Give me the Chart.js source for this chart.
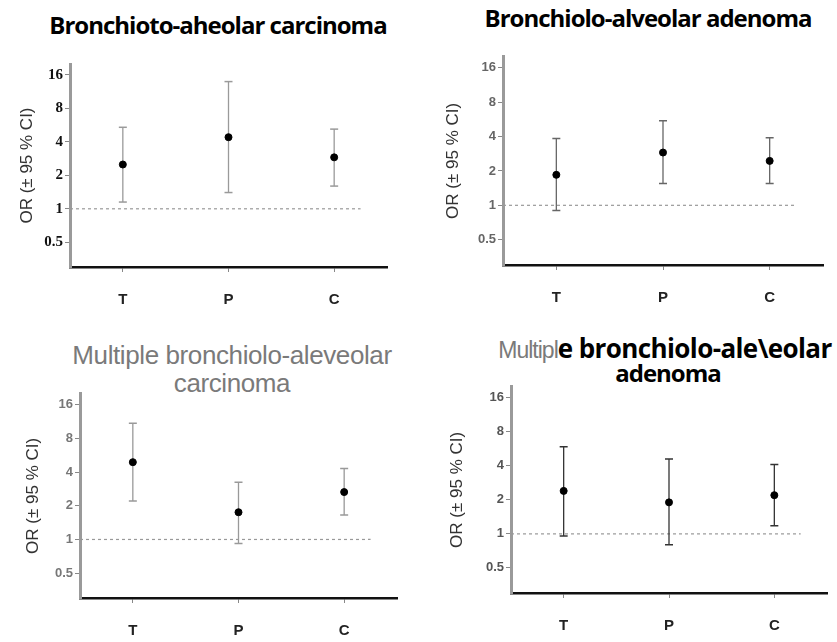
<!DOCTYPE html>
<html>
<head>
<meta charset="utf-8">
<script src="https://cdn.jsdelivr.net/npm/chart.js@4"></script>
<style>
  body { margin: 0; background: #fff; width: 837px; height: 642px; position: relative; overflow: hidden; }
  canvas { position: absolute; }
  .ttl { position: absolute; transform: translate(-50%, -50%); white-space: nowrap; line-height: 1; }
  .bold { font-family: "Open Sans", sans-serif; font-weight: 700; color: #000; letter-spacing: -1px; }
  .thin { font-family: "Liberation Sans", sans-serif; font-weight: 400; color: #7a7a7a; letter-spacing: -0.4px; }
</style>
</head>
<body>
<div class="ttl bold" style="left:218px;top:25px;font-size:24px">Bronchioto-aheolar carcinoma</div>
<div class="ttl bold" style="left:648px;top:18px;font-size:24px">Bronchiolo-alveolar adenoma</div>
<div class="ttl thin" style="left:232px;top:355px;font-size:26px">Multiple bronchiolo-aleveolar</div>
<div class="ttl thin" style="left:232px;top:383px;font-size:26px">carcinoma</div>
<div class="ttl" style="left:665px;top:348px"><span class="thin" style="font-size:23px;letter-spacing:-1px">Multipl</span><span class="bold" style="font-size:26px;letter-spacing:-0.6px">e bronchiolo-ale\eolar</span></div>
<div class="ttl bold" style="left:668px;top:373px;font-size:24px">adenoma</div>

<canvas id="c1"></canvas>
<canvas id="c2"></canvas>
<canvas id="c3"></canvas>
<canvas id="c4"></canvas>
<script>
const categories = ['T', 'P', 'C'];
const yTicks = [0.5, 1, 2, 4, 8, 16];
const yTitle = 'OR (± 95 % CI)';
const refValue = 1;
const refSpan = [0.5, 3.25];

// Bronchiolo-alveolar carcinoma
const carcOR = [2.5, 4.4, 2.9];
const carcLow = [1.15, 1.4, 1.6];
const carcHigh = [5.4, 13.9, 5.2];

// Bronchiolo-alveolar adenoma
const adenOR = [1.85, 2.9, 2.45];
const adenLow = [0.9, 1.55, 1.55];
const adenHigh = [3.85, 5.5, 3.9];

// Multiple bronchiolo-alveolar carcinoma
const multCarcOR = [4.9, 1.75, 2.65];
const multCarcLow = [2.2, 0.92, 1.65];
const multCarcHigh = [10.9, 3.25, 4.3];

// Multiple bronchiolo-alveolar adenoma
const multAdenOR = [2.4, 1.9, 2.2];
const multAdenLow = [0.96, 0.8, 1.18];
const multAdenHigh = [5.9, 4.6, 4.1];

// panel boxes: title centre x, axis left, top, right, bottom
const panels = [
    { id: 'c1', or: carcOR, lo: carcLow, hi: carcHigh, box: [27, 70, 61, 387, 267],
      barColor: '#9a9a9a', tickFont: { family: 'Liberation Serif', size: 15, weight: 'bold' }, tickColor: '#111' },
    { id: 'c2', or: adenOR, lo: adenLow, hi: adenHigh, box: [453, 503, 55, 823, 265],
      barColor: '#666', tickFont: { family: 'Liberation Sans', size: 13, weight: 'bold' }, tickColor: '#666' },
    { id: 'c3', or: multCarcOR, lo: multCarcLow, hi: multCarcHigh, box: [33, 80, 392, 397, 598],
      barColor: '#999', tickFont: { family: 'Liberation Sans', size: 13, weight: 'bold' }, tickColor: '#777' },
    { id: 'c4', or: multAdenOR, lo: multAdenLow, hi: multAdenHigh, box: [457, 511, 385, 827, 593],
      barColor: '#333', tickFont: { family: 'Liberation Sans', size: 13, weight: 'bold' }, tickColor: '#555' }
];

function drawPanel(p) {
    const [titleX, axisX, top, right, bottom] = p.box;
    const left = titleX - 10;
    const yWidth = axisX - left;
    const xHeight = 45;
    const canvasTop = top - 8;
    const canvas = document.getElementById(p.id);
    canvas.width = right + 8 - left;
    canvas.height = bottom + xHeight - canvasTop;
    canvas.style.left = left + 'px';
    canvas.style.top = canvasTop + 'px';

    const datasets = [{
        type: 'scatter',
        data: p.or.map((v, i) => ({ x: i + 1, y: v })),
        pointRadius: 3.5,
        pointBackgroundColor: '#000',
        pointBorderColor: '#000'
    }];
    categories.forEach((c, i) => {
        datasets.push({
            type: 'line',
            data: [{ x: i + 1, y: p.lo[i] }, { x: i + 1, y: p.hi[i] }],
            borderColor: p.barColor,
            borderWidth: 1.3,
            pointStyle: 'line',
            pointRadius: 4,
            pointBorderColor: p.barColor,
            pointBorderWidth: 1.5
        });
    });
    datasets.push({
        type: 'line',
        data: refSpan.map(x => ({ x, y: refValue })),
        borderColor: '#999',
        borderWidth: 1.2,
        borderDash: [3, 3],
        pointRadius: 0
    });

    new Chart(canvas, {
        data: { datasets },
        options: {
            responsive: false,
            animation: false,
            devicePixelRatio: 1,
            layout: { padding: { top: 8, right: 8, left: 0, bottom: 0 } },
            plugins: { legend: { display: false }, tooltip: { enabled: false } },
            scales: {
                x: {
                    type: 'linear',
                    min: 0.5,
                    max: 3.5,
                    afterBuildTicks: s => { s.ticks = categories.map((c, i) => ({ value: i + 1 })); },
                    afterFit: s => { s.height = xHeight; },
                    ticks: {
                        callback: v => categories[v - 1],
                        padding: 19,
                        font: { family: 'Liberation Sans', size: 15, weight: 'bold' },
                        color: '#222'
                    },
                    grid: { drawOnChartArea: false, drawTicks: true, tickLength: 5, color: '#888' },
                    border: { display: true, color: '#111', width: 2.5 }
                },
                y: {
                    type: 'logarithmic',
                    min: 0.3,
                    max: 20,
                    afterBuildTicks: s => { s.ticks = yTicks.map(v => ({ value: v })); },
                    afterFit: s => { s.width = yWidth; },
                    ticks: {
                        callback: v => String(v),
                        padding: 2,
                        font: p.tickFont,
                        color: p.tickColor
                    },
                    title: {
                        display: true,
                        text: yTitle,
                        padding: 0,
                        font: { family: 'Liberation Sans', size: 17 },
                        color: '#333'
                    },
                    grid: { drawOnChartArea: false, drawTicks: true, tickLength: 5, color: '#888' },
                    border: { display: true, color: '#9a9a9a', width: 3 }
                }
            }
        }
    });
}

panels.forEach(drawPanel);
</script>
</body>
</html>
